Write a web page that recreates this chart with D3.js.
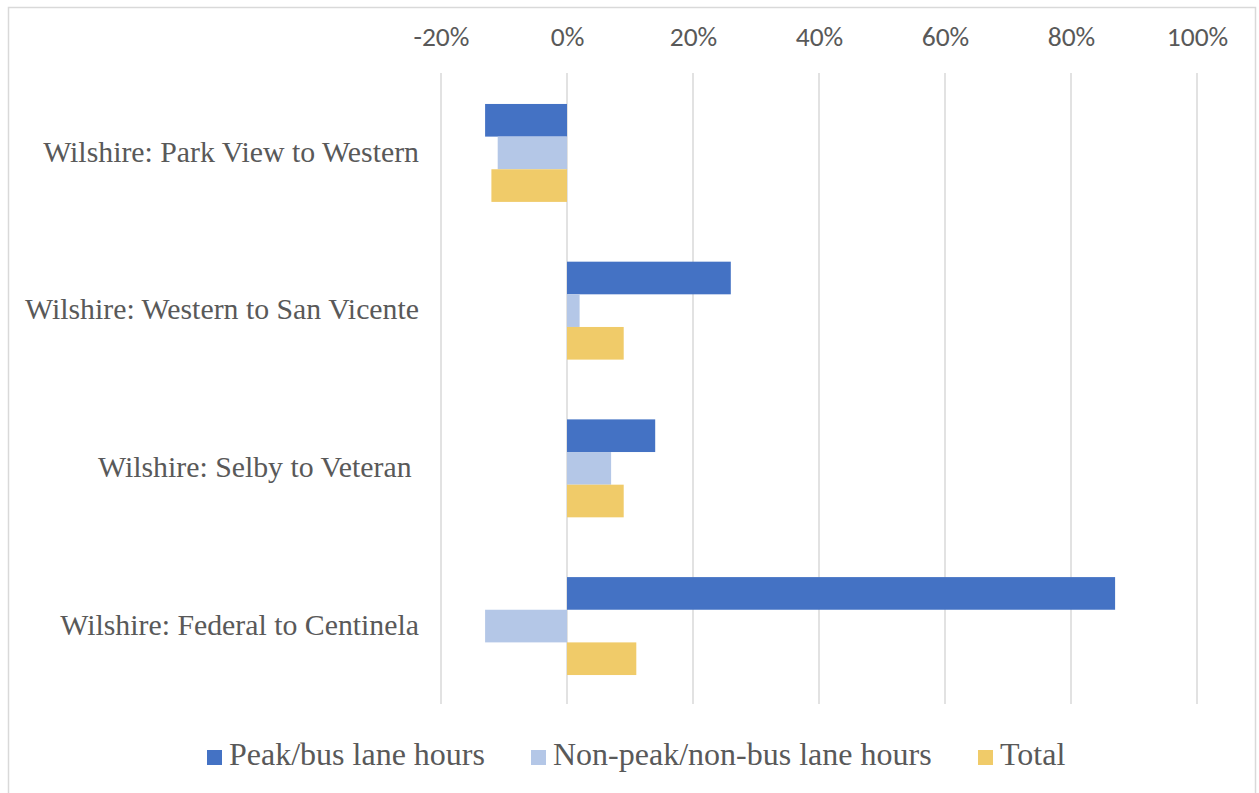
<!DOCTYPE html>
<html><head><meta charset="utf-8">
<script src="https://cdn.jsdelivr.net/npm/d3@7"></script>
<style>body{margin:0;background:#fff}svg{display:block}</style>
</head><body>
<svg id="c" width="1259" height="793"></svg>
<script>
const categories = ["Wilshire: Park View to Western","Wilshire: Western to San Vicente","Wilshire: Selby to Veteran ","Wilshire: Federal to Centinela"];
const seriesNames = ["Peak/bus lane hours","Non-peak/non-bus lane hours","Total"];
const peak = [-0.13, 0.26, 0.14, 0.87];
const nonPeak = [-0.11, 0.02, 0.07, -0.13];
const total = [-0.12, 0.09, 0.09, 0.11];
const tickValues = [-0.2, 0, 0.2, 0.4, 0.6, 0.8, 1.0];
const colors = ["#4472C4","#B4C7E7","#F0CB69"];

const series = [peak, nonPeak, total];
const svg = d3.select("#c");
svg.append("rect").attr("x",8.5).attr("y",7.5).attr("width",1247).attr("height",790)
  .attr("fill","#fff").attr("stroke","#d9d9d9").attr("stroke-width",1.5);

const x = d3.scaleLinear().domain([-0.2,1.0]).range([441,1197]);
const y = d3.scaleBand().domain(categories).range([74,705]).paddingInner(0.379).paddingOuter(0.19);
const ys = d3.scaleBand().domain(d3.range(3)).range([0,y.bandwidth()]);

// gridlines
svg.append("g").selectAll("line").data(tickValues).join("line")
  .attr("x1",d=>x(d)).attr("x2",d=>x(d)).attr("y1",73).attr("y2",704)
  .attr("stroke","#d9d9d9").attr("stroke-width",1.5);

// top axis labels
const fmt = d => (Math.round(d*100)) + "%";
const axis = d3.axisTop(x).tickValues(tickValues).tickSize(0).tickPadding(0).tickFormat(fmt);
const ag = svg.append("g").attr("transform","translate(0,46)").call(axis);
ag.select(".domain").remove();
ag.selectAll("text").attr("font-family","Carlito, 'Liberation Sans', sans-serif").attr("font-size",27.5).attr("fill","#595959").attr("dy","0");

// bars
const g = svg.append("g");
categories.forEach((c,i)=>{
  series.forEach((s,k)=>{
    const v = s[i];
    g.append("rect")
      .attr("x", x(Math.min(0,v)))
      .attr("width", Math.abs(x(v)-x(0)))
      .attr("y", y(c)+ys(k))
      .attr("height", ys.bandwidth())
      .attr("fill", colors[k]);
  });
});

// category labels
svg.append("g").selectAll("text").data(categories).join("text")
  .attr("x",419).attr("y",d=>y(d)+y.bandwidth()/2 - 1)
  .attr("dy","0.33em").attr("text-anchor","end")
  .style("white-space","pre")
  .attr("font-family","'Liberation Serif', 'Times New Roman', serif").attr("font-size",29.8).attr("fill","#595959")
  .text(d=>d);

// legend
const legendX = [207, 531, 978];
const lg = svg.append("g");
seriesNames.forEach((n,k)=>{
  lg.append("rect").attr("x",legendX[k]).attr("y",750).attr("width",15).attr("height",15).attr("fill",colors[k]);
  lg.append("text").attr("x",legendX[k]+22).attr("y",765)
    .attr("font-family","'Liberation Serif', 'Times New Roman', serif").attr("font-size",32).attr("fill","#595959").text(n);
});
</script>
</body></html>
